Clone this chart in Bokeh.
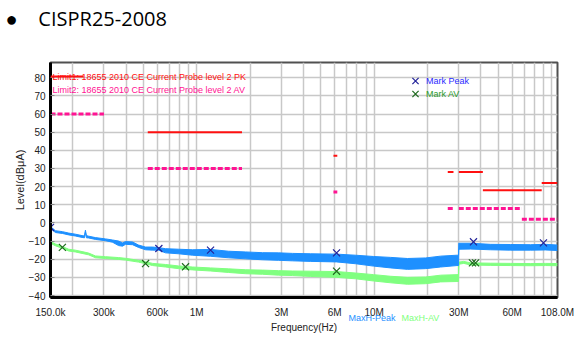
from bokeh.plotting import figure
from bokeh.models import (FixedTicker, Label, BoxAnnotation, Legend, LegendItem, Range1d)
from bokeh.embed import file_html
from bokeh.resources import INLINE

MHZ = 1e6

# ---- measured traces (MHz, dBuA): upper / lower envelope of the noisy trace ----
peak_freq_mhz = [0.150, 0.160, 0.175, 0.190, 0.207, 0.226, 0.233, 0.236, 0.239, 0.246,
                 0.269, 0.306, 0.335, 0.363, 0.382, 0.397, 0.435, 0.470, 0.515, 0.564,
                 0.609, 0.667, 0.790, 0.948, 1.197, 1.51, 1.89, 2.35, 2.89, 3.47,
                 4.38, 6.14, 7.86, 9.93, 12.4, 15.4, 19.5, 23.7, 29.3, 29.9,
                 30.0, 35.0, 45.3, 58.8, 76.2, 92.6, 108.0]
peak_hi = [-2.0, -4.3, -4.8, -5.6, -6.2, -7.0, -7.2, -4.0, -7.0, -7.3,
           -8.1, -8.8, -9.4, -10.0, -11.0, -10.3, -10.5, -12.2, -13.3, -13.3,
           -13.6, -14.2, -14.5, -14.8, -14.6, -15.6, -16.0, -16.4, -16.5, -16.8,
           -17.0, -17.2, -17.8, -18.5, -19.0, -19.6, -19.3, -18.3, -17.8, -17.8,
           -11.2, -11.2, -11.8, -11.9, -12.0, -11.8, -12.2]
peak_lo = [-3.0, -5.3, -5.8, -6.6, -7.2, -8.0, -8.2, -5.0, -8.2, -8.3,
           -9.1, -9.8, -10.6, -12.5, -12.8, -11.8, -12.0, -13.5, -14.8, -15.0,
           -15.0, -16.5, -17.0, -17.8, -18.4, -19.2, -19.8, -20.3, -20.6, -20.9,
           -21.2, -21.5, -22.5, -23.8, -24.8, -25.6, -25.2, -24.3, -23.5, -23.5,
           -14.5, -14.4, -14.8, -15.0, -15.0, -14.9, -15.2]

av_freq_mhz = [0.150, 0.160, 0.175, 0.190, 0.207, 0.226, 0.246, 0.269, 0.306, 0.363,
               0.397, 0.470, 0.515, 0.564, 0.667, 0.790, 0.948, 1.197, 1.51, 1.89,
               2.35, 2.89, 3.47, 4.38, 6.14, 7.86, 9.93, 12.4, 15.4, 19.5,
               23.7, 29.3, 29.9, 30.0, 32.0, 35.0, 45.3, 58.8, 76.2, 92.6, 108.0]
av_hi = [-10.2, -11.6, -13.0, -14.5, -15.0, -15.8, -16.6, -18.2, -18.6, -19.1,
         -19.5, -20.6, -21.4, -22.3, -22.9, -23.7, -24.3, -24.8, -25.3, -25.8,
         -26.0, -26.3, -26.5, -26.6, -26.8, -27.6, -28.5, -29.4, -30.0, -29.8,
         -28.8, -28.5, -28.5, -21.6, -21.2, -22.0, -22.2, -22.3, -22.4, -22.3, -22.4]
av_lo = [-11.2, -12.6, -14.0, -15.5, -16.0, -16.8, -17.6, -19.2, -19.6, -20.1,
         -20.5, -21.6, -22.5, -23.5, -24.3, -25.2, -25.9, -26.5, -27.3, -28.0,
         -28.3, -28.8, -29.0, -29.5, -30.0, -30.8, -32.0, -33.0, -33.8, -33.5,
         -32.5, -32.3, -32.3, -22.8, -22.3, -23.2, -23.4, -23.5, -23.6, -23.5, -23.6]

# ---- limit lines (MHz start, MHz stop, dBuA) ----
pk_start = [0.53, 5.9, 26.0, 30.0, 41.0, 88.0]
pk_stop = [1.8, 6.2, 28.0, 41.0, 88.0, 108.0]
pk_level = [50, 37, 28, 28, 18, 22]
av_start = [0.15, 0.53, 5.9, 26.0, 30.0, 68.0]
av_stop = [0.30, 1.8, 6.2, 28.0, 68.0, 108.0]
av_level = [60, 30, 17, 8, 8, 2]

# ---- marker readings ----
mark_pk_freq = [0.150, 0.612, 1.197, 6.14, 36.3, 90.0]
mark_pk_level = [-2.5, -14.1, -15.0, -16.5, -10.4, -11.0]
mark_av_freq = [0.175, 0.515, 0.865, 6.14, 35.8, 37.3]
mark_av_level = [-13.5, -22.4, -24.2, -26.6, -22.0, -22.0]

x_tick_mhz = [0.15, 0.3, 0.6, 1, 3, 6, 10, 30, 60, 108]
x_tick_labels = ["150.0k", "300k", "600k", "1M", "3M", "6M", "10M", "30M", "60M", "108.0M"]
x_grid_mhz = [0.2, 0.3, 0.4, 0.5, 0.6, 0.7, 0.8, 0.9, 1, 2, 3, 4, 5, 6, 7, 8, 9,
              10, 20, 30, 40, 50, 60, 70, 80, 90, 100]
y_ticks = [-40, -30, -20, -10, 0, 10, 20, 30, 40, 50, 60, 70, 80]
trace_names = ["MaxH-Peak", "MaxH-AV"]
heading = "CISPR25-2008"

FONT = "Liberation Sans"
BLUE = "#1e90ff"
GREEN = "#80ff80"
RED = "#ff1010"
PINK = "#ff1493"

X_MIN, X_MAX = 0.15 * MHZ, 108 * MHZ
Y_MIN, Y_MAX = -41.1, 88.4
# frame layout (pixels): left, right, top, bottom
FL, FR, FT, FB = 50, 557, 62, 297


def hz(lst):
    return [v * MHZ for v in lst]


def at_px(xpx, ypx):
    """Place an out-of-frame text at a canvas pixel position, via the plot's own scales."""
    fx = X_MIN * (X_MAX / X_MIN) ** ((xpx - FL) / (FR - FL))
    fy = Y_MIN + (FB - ypx) / (FB - FT) * (Y_MAX - Y_MIN)
    return fx, fy


p = figure(width=588, height=344, x_axis_type="log",
           x_range=Range1d(X_MIN, X_MAX), y_range=Range1d(Y_MIN, Y_MAX),
           output_backend="svg", toolbar_location=None, title=None,
           min_border_left=FL, min_border_right=588 - FR, min_border_top=FT,
           min_border_bottom=344 - FB)
p.background_fill_color = "white"
p.border_fill_color = "white"
p.outline_line_color = "#505050"
p.outline_line_width = 2

# grids
p.xgrid.ticker = FixedTicker(ticks=hz(x_grid_mhz))
p.ygrid.ticker = FixedTicker(ticks=y_ticks)
for g in (p.xgrid, p.ygrid):
    g.grid_line_color = "#c8c8c8"
    g.grid_line_width = 1.5

# axes
p.xaxis.ticker = FixedTicker(ticks=hz(x_tick_mhz))
p.xaxis.major_label_overrides = {v * MHZ: s for v, s in zip(x_tick_mhz, x_tick_labels)}
p.yaxis.ticker = FixedTicker(ticks=y_ticks)
for ax in (p.xaxis, p.yaxis):
    ax.axis_line_color = "black"
    ax.axis_line_width = 3
    ax.minor_tick_line_color = None
    ax.major_label_text_font = FONT
    ax.major_label_text_font_size = "10px"
    ax.major_label_text_color = "#222222"
    ax.axis_label_text_font = FONT
    ax.axis_label_text_font_style = "normal"
    ax.axis_label_text_color = "#222222"
p.xaxis.axis_label_text_font_size = "10px"
p.yaxis.axis_label_text_font_size = "11px"
p.xaxis.major_tick_in = 0
p.xaxis.major_tick_out = 0
p.xaxis.major_label_standoff = 9
p.xaxis.axis_label = "Frequency(Hz)"
p.xaxis.axis_label_standoff = 1
p.yaxis.major_tick_in = 4
p.yaxis.major_tick_out = 0
p.yaxis.major_tick_line_color = "#888888"
p.yaxis.major_label_standoff = 5
p.yaxis.axis_label = "Level(dBμA)"
p.yaxis.axis_label_standoff = 0

# traces
p.varea(x=hz(av_freq_mhz), y1=av_lo, y2=av_hi, fill_color=GREEN)
p.line(x=hz(av_freq_mhz), y=av_hi, line_color=GREEN, line_width=1)
p.line(x=hz(av_freq_mhz), y=av_lo, line_color=GREEN, line_width=1)
p.varea(x=hz(peak_freq_mhz), y1=peak_lo, y2=peak_hi, fill_color=BLUE)
p.line(x=hz(peak_freq_mhz), y=peak_hi, line_color=BLUE, line_width=1)
p.line(x=hz(peak_freq_mhz), y=peak_lo, line_color=BLUE, line_width=1)

# limits
p.segment(x0=hz(pk_start), y0=pk_level, x1=hz(pk_stop), y1=pk_level,
          line_color=RED, line_width=2)
p.segment(x0=hz(av_start), y0=av_level, x1=hz(av_stop), y1=av_level,
          line_color=PINK, line_width=3, line_dash="5 2")

# markers
r_mpk = p.scatter(x=hz(mark_pk_freq), y=mark_pk_level, marker="x", size=10,
                  line_color="#23239a", line_width=1.2)
r_mav = p.scatter(x=hz(mark_av_freq), y=mark_av_level, marker="x", size=10,
                  line_color="#1f6a1f", line_width=1.2)

# legends for markers
for lab, rend, col, vy in (("Mark Peak", r_mpk, "#2a2aff", 204), ("Mark AV", r_mav, "#2a9a2a", 191)):
    leg = Legend(items=[LegendItem(label=lab, renderers=[rend])], location=(354, vy),
                 glyph_width=22, glyph_height=25, label_standoff=0, padding=0, margin=0,
                 spacing=0, label_height=25, label_text_font=FONT, label_text_font_size="9px",
                 label_text_color=col, background_fill_alpha=0, border_line_alpha=0)
    p.add_layout(leg)

# limit legend texts
p.add_layout(BoxAnnotation(left=0, right=33, bottom=220, top=222, left_units="screen",
                           right_units="screen", bottom_units="screen", top_units="screen",
                           fill_color=RED, fill_alpha=1, line_color=None))
p.add_layout(Label(x=2, y=215.5, x_units="screen", y_units="screen",
                   text="Limit1: 18655 2010 CE Current Probe level 2 PK",
                   text_font=FONT, text_font_size="9px", text_color=RED))
p.add_layout(Label(x=2, y=203, x_units="screen", y_units="screen",
                   text="Limit2: 18655 2010 CE Current Probe level 2 AV",
                   text_font=FONT, text_font_size="9px", text_color=PINK))

# texts outside the frame: side-panel labels (not clipped), placed through the plot scales
hx, hy = at_px(5, 17.5)
p.add_layout(Label(x=hx, y=hy, text="\u25cf\u00a0\u00a0\u00a0\u00a0" + heading,
                   text_font="Open Sans", text_font_size="20px", text_color="black",
                   text_baseline="alphabetic"), "above")
for txt, xpx, col in ((trace_names[0], 348, BLUE), (trace_names[1], 401, GREEN)):
    tx, ty = at_px(xpx, 317.5)
    p.add_layout(Label(x=tx, y=ty, text=txt, text_font=FONT, text_font_size="9px",
                       text_color=col, text_baseline="alphabetic"), "above")

open("out.html", "w").write(file_html(p, INLINE))
